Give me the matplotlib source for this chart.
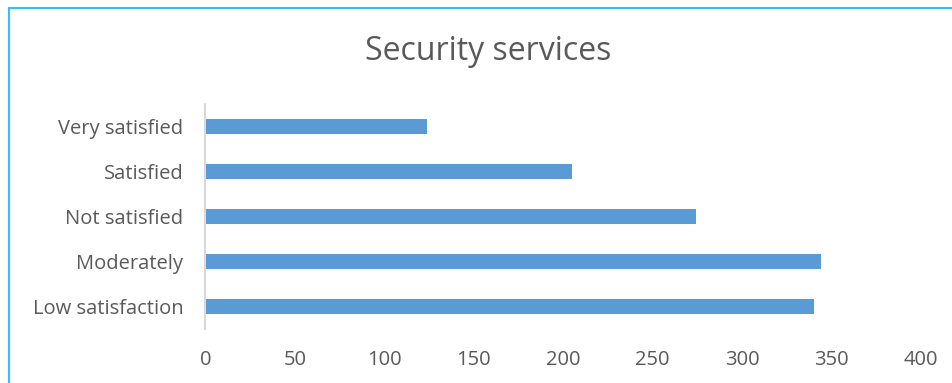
import matplotlib

matplotlib.use("Agg")

import matplotlib.pyplot as plt
from matplotlib.lines import Line2D

categories = ["Low satisfaction", "Moderately", "Not satisfied", "Satisfied", "Very satisfied"]
values = [340, 344, 274, 205, 124]
x_ticks = [0, 50, 100, 150, 200, 250, 300, 350, 400]

plt.rcParams["font.family"] = ["Open Sans", "DejaVu Sans"]

fig = plt.figure(figsize=(9.53, 3.83), dpi=100)
ax = fig.add_axes([205.5 / 953, 54 / 383, (921 - 205.5) / 953, 225 / 383])

ax.barh(range(len(categories)), values, height=0.333, color="#5B9BD5")
ax.set_xlim(0, 400)
ax.set_ylim(-0.5, len(categories) - 0.5)
ax.set_xticks(x_ticks)
ax.set_yticks(range(len(categories)))
ax.set_yticklabels(categories)

for side in ["top", "right", "bottom"]:
    ax.spines[side].set_visible(False)
ax.spines["left"].set_color("#D9D9D9")
ax.spines["left"].set_linewidth(1.5)
ax.tick_params(axis="both", length=0, labelsize=14.5, colors="#595959")
ax.tick_params(axis="x", pad=15)
ax.tick_params(axis="y", pad=16)

fig.text(488 / 953, 1 - 51 / 383, "Security services", ha="center", va="center",
         fontsize=23, color="#595959")

# partial frame of the chart area (top and left edges visible)
fig.add_artist(Line2D([9 / 953, 1], [1 - 8 / 383, 1 - 8 / 383], color="#33C2F5", linewidth=1.5))
fig.add_artist(Line2D([9 / 953, 9 / 953], [0, 1 - 8 / 383], color="#33C2F5", linewidth=1.5))

fig.savefig("out.png", dpi=100)
